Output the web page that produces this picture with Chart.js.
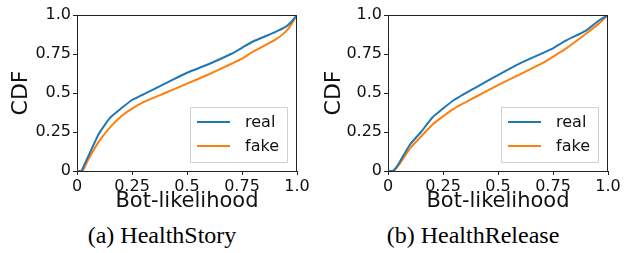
<!DOCTYPE html>
<html>
<head>
<meta charset="utf-8">
<script src="https://cdn.jsdelivr.net/npm/chart.js@4"></script>
<style>
  html, body { margin: 0; padding: 0; background: #fff; }
  #wrap { position: relative; width: 636px; height: 253px; }
  .box { position: absolute; top: 0; width: 318px; height: 215px; }
  .cap { position: absolute; top: 222px; width: 220px; text-align: center;
         font-family: "Liberation Serif", "Times New Roman", serif; font-size: 24px; color: #000; }
</style>
</head>
<body>
<div id="wrap">
  <div class="box" style="left:0"><canvas id="story"></canvas></div>
  <div class="box" style="left:318px"><canvas id="release"></canvas></div>
  <div class="cap" style="left:52px">(a) HealthStory</div>
  <div class="cap" style="left:363px">(b) HealthRelease</div>
</div>
<script>
// bot-likelihood sample points (x) shared by all curves
const likelihood = [0, 0.02, 0.03, 0.05, 0.1, 0.15, 0.2, 0.25, 0.3, 0.4, 0.5, 0.6, 0.7, 0.75, 0.8, 0.9, 0.95, 0.97, 1.0];

// HealthStory CDF
const storyReal = [0, 0, 0.03, 0.09, 0.24, 0.34, 0.40, 0.455, 0.49, 0.56, 0.63, 0.686, 0.75, 0.79, 0.83, 0.89, 0.925, 0.95, 1.0];
const storyFake = [0, 0, 0.01, 0.07, 0.19, 0.28, 0.35, 0.40, 0.44, 0.50, 0.56, 0.62, 0.686, 0.72, 0.765, 0.84, 0.895, 0.93, 1.0];

// HealthRelease CDF
const releaseReal = [0, 0, 0.01, 0.05, 0.17, 0.25, 0.34, 0.40, 0.455, 0.536, 0.615, 0.69, 0.754, 0.786, 0.83, 0.90, 0.955, 0.975, 1.0];
const releaseFake = [0, 0, 0.005, 0.04, 0.145, 0.22, 0.295, 0.35, 0.40, 0.476, 0.55, 0.62, 0.69, 0.733, 0.776, 0.88, 0.935, 0.96, 1.0];

const seriesNames = ['real', 'fake'];
const tickValues = [0, 0.25, 0.5, 0.75, 1.0];
const tickLabels = ['0', '0.25', '0.5', '0.75', '1.0'];

const BLUE = '#1f77b4';
const ORANGE = '#ff7f0e';
const FONT = '"DejaVu Sans", sans-serif';

function toPoints(ys) {
  return likelihood.map((x, i) => ({ x: x, y: ys[i] }));
}

// frame round the plot + legend inside the lower right corner
const framePlugin = {
  id: 'plotFrame',
  afterDatasetsDraw(chart) {
    const ctx = chart.ctx;
    const a = chart.chartArea;
    ctx.save();
    ctx.strokeStyle = '#222';
    ctx.lineWidth = 1;
    ctx.beginPath();
    ctx.moveTo(a.left, a.top + 0.5);
    ctx.lineTo(a.right - 0.5, a.top + 0.5);
    ctx.lineTo(a.right - 0.5, a.bottom);
    ctx.stroke();

    const w = 97, h = 55;
    const bx = a.right - 10 - w, by = a.bottom - 9 - h;
    ctx.fillStyle = 'rgba(255,255,255,0.85)';
    ctx.strokeStyle = '#d0d0d0';
    ctx.beginPath();
    ctx.rect(bx + 0.5, by + 0.5, w, h);
    ctx.fill();
    ctx.stroke();

    ctx.font = '16px ' + FONT;
    ctx.textBaseline = 'middle';
    ctx.textAlign = 'left';
    chart.data.datasets.forEach((ds, i) => {
      const yy = by + 15 + i * 24;
      ctx.strokeStyle = ds.borderColor;
      ctx.lineWidth = 2;
      ctx.beginPath();
      ctx.moveTo(bx + 7, yy);
      ctx.lineTo(bx + 40, yy);
      ctx.stroke();
      ctx.fillStyle = '#111';
      ctx.fillText(ds.label, bx + 55, yy + 1);
    });
    ctx.restore();
  }
};

function axis(title, size, pad) {
  return {
    type: 'linear',
    min: 0,
    max: 1,
    afterBuildTicks: s => { s.ticks = tickValues.map(v => ({ value: v })); },
    afterTickToLabelConversion: s => { s.ticks.forEach((t, i) => { t.label = tickLabels[i]; }); },
    ticks: {
      autoSkip: false,
      maxRotation: 0,
      padding: 2,
      color: '#111',
      font: { family: FONT, size: 16 }
    },
    grid: { drawOnChartArea: false, drawTicks: true, tickLength: 4, color: '#222' },
    border: { display: true, color: '#222' },
    title: { display: true, text: title, color: '#111', padding: pad, font: { family: FONT, size: size } }
  };
}

function makeChart(id, real, fake, padLeft, yWidth, padRight) {
  const xAxis = axis('Bot-likelihood', 21, { top: 0, bottom: 1 });
  xAxis.afterFit = s => { s.height = 44; };
  const yAxis = axis('CDF', 22, { top: 0, bottom: 0 });
  yAxis.afterFit = s => { s.width = yWidth; };

  const cv = document.getElementById(id);
  cv.width = 318;
  cv.height = 215;
  new Chart(cv, {
    type: 'line',
    data: {
      datasets: [
        { label: seriesNames[0], data: toPoints(real), borderColor: BLUE, borderWidth: 2, pointRadius: 0, tension: 0.15 },
        { label: seriesNames[1], data: toPoints(fake), borderColor: ORANGE, borderWidth: 2, pointRadius: 0, tension: 0.15 }
      ]
    },
    options: {
      responsive: false,
      animation: false,
      layout: { padding: { left: padLeft, top: 15, right: padRight, bottom: 0 } },
      plugins: { legend: { display: false }, tooltip: { enabled: false } },
      scales: { x: xAxis, y: yAxis }
    },
    plugins: [framePlugin]
  });
}

makeChart('story', storyReal, storyFake, 8, 69, 21);
makeChart('release', releaseReal, releaseFake, 3, 67, 28);
</script>
</body>
</html>
